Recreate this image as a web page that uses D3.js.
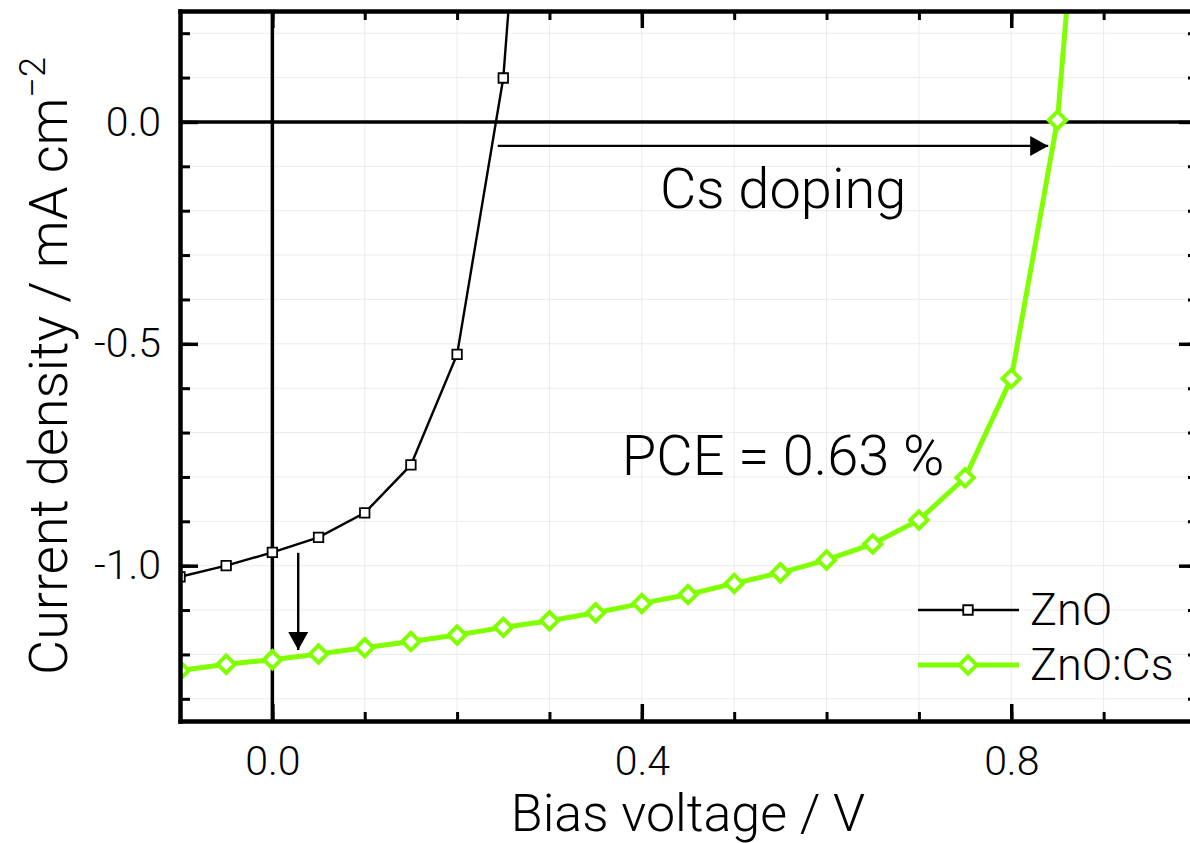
<!DOCTYPE html>
<html>
<head>
<meta charset="utf-8">
<script src="https://cdn.jsdelivr.net/npm/d3@7"></script>
<style>
  html, body { margin: 0; padding: 0; background: #fff; }
  svg { display: block; }
  text { font-family: Roboto, "Liberation Sans", sans-serif; font-weight: 300; fill: #000; }
</style>
</head>
<body>
<div id="chart"></div>
<script>
// ZnO reference device
const znoVoltage = [-0.1, -0.05, 0, 0.05, 0.1, 0.15, 0.2, 0.25, 0.3];
const znoCurrent = [-1.025, -1.0, -0.970, -0.936, -0.881, -0.773, -0.524, 0.099, 1.46];

// Cs doped ZnO device
const csVoltage = [-0.1, -0.05, 0, 0.05, 0.1, 0.15, 0.2, 0.25, 0.3, 0.35, 0.4, 0.45,
  0.5, 0.55, 0.6, 0.65, 0.7, 0.75, 0.8, 0.85, 0.9];
const csCurrent = [-1.236, -1.222, -1.212, -1.199, -1.185, -1.171, -1.156, -1.139, -1.124,
  -1.106, -1.085, -1.065, -1.040, -1.016, -0.987, -0.951, -0.897, -0.802, -0.578, 0.004, 1.25];

const seriesNames = ["ZnO", "ZnO:Cs"];

// axes
const xDomain = [-0.1, 1.0];
const yDomain = [-1.35, 0.25];
const xMajorTicks = [0.0, 0.4, 0.8];
const xMajorLabels = ["0.0", "0.4", "0.8"];
const yMajorTicks = [0.0, -0.5, -1.0];
const yMajorLabels = ["0.0", "-0.5", "-1.0"];
const xMinorTicks = [-0.1, 0.0, 0.1, 0.2, 0.3, 0.4, 0.5, 0.6, 0.7, 0.8, 0.9, 1.0];
const yMinorTicks = [-1.3, -1.2, -1.1, -1.0, -0.9, -0.8, -0.7, -0.6, -0.5, -0.4, -0.3, -0.2, -0.1, 0.0, 0.1, 0.2];

// annotations (data units)
const shiftArrow = [[0.244, -0.054], [0.840, -0.054]];
const jscArrow = [[0.028, -0.971], [0.028, -1.19]];
const notes = [
  { text: "Cs doping", x: 0.553, y: -0.194 },
  { text: "PCE = 0.63 %", x: 0.553, y: -0.796 }
];

const width = 1190, height = 843;
const green = "#80ff00";

const svg = d3.select("#chart").append("svg")
  .attr("width", width)
  .attr("height", height);

const x = d3.scaleLinear().domain(xDomain).range([180, 1196]);
const y = d3.scaleLinear().domain(yDomain).range([721, 11]);

svg.append("defs").append("clipPath")
  .attr("id", "plotClip")
  .append("rect")
  .attr("x", x(xDomain[0]))
  .attr("y", y(yDomain[1]))
  .attr("width", x(xDomain[1]) - x(xDomain[0]))
  .attr("height", y(yDomain[0]) - y(yDomain[1]));

svg.select("defs").append("marker")
  .attr("id", "head")
  .attr("markerUnits", "userSpaceOnUse")
  .attr("viewBox", "0 -11 20 22")
  .attr("markerWidth", 20)
  .attr("markerHeight", 22)
  .attr("refX", 18)
  .attr("refY", 0)
  .attr("orient", "auto")
  .append("path")
  .attr("d", "M0,-10L18,0L0,10Z")
  .attr("fill", "#000");

// grid
const grid = svg.append("g").attr("class", "grid");
grid.selectAll(".gx")
  .data(xMinorTicks)
  .enter().append("line")
  .attr("x1", d => x(d)).attr("x2", d => x(d))
  .attr("y1", y(yDomain[0])).attr("y2", y(yDomain[1]))
  .attr("stroke", "#ebebeb").attr("stroke-width", 1);
grid.selectAll(".gy")
  .data(yMinorTicks)
  .enter().append("line")
  .attr("y1", d => y(d)).attr("y2", d => y(d))
  .attr("x1", x(xDomain[0])).attr("x2", x(xDomain[1]))
  .attr("stroke", "#ebebeb").attr("stroke-width", 1);

// zero lines
svg.append("line")
  .attr("x1", x(xDomain[0])).attr("x2", x(xDomain[1]))
  .attr("y1", y(0)).attr("y2", y(0))
  .attr("stroke", "#000").attr("stroke-width", 3.5);
svg.append("line")
  .attr("x1", x(0)).attr("x2", x(0))
  .attr("y1", y(yDomain[0])).attr("y2", y(yDomain[1]))
  .attr("stroke", "#000").attr("stroke-width", 3.5);

// data
const plot = svg.append("g").attr("clip-path", "url(#plotClip)");
const line = d3.line().x(d => x(d[0])).y(d => y(d[1]));

const znoData = znoVoltage.map((v, i) => [v, znoCurrent[i]]);
const csData = csVoltage.map((v, i) => [v, csCurrent[i]]);

plot.append("path")
  .datum(znoData)
  .attr("d", line)
  .attr("fill", "none")
  .attr("stroke", "#000")
  .attr("stroke-width", 2.4);

plot.append("path")
  .datum(csData)
  .attr("d", line)
  .attr("fill", "none")
  .attr("stroke", green)
  .attr("stroke-width", 5);

const square = d3.symbol().type(d3.symbolSquare).size(90);
const diamond = d3.symbol().type(d3.symbolSquare).size(150);

plot.selectAll(".sq")
  .data(znoData)
  .enter().append("path")
  .attr("d", square)
  .attr("transform", d => `translate(${x(d[0])},${y(d[1])})`)
  .attr("fill", "#fff")
  .attr("stroke", "#000")
  .attr("stroke-width", 1.8);

plot.selectAll(".dm")
  .data(csData)
  .enter().append("path")
  .attr("d", diamond)
  .attr("transform", d => `translate(${x(d[0])},${y(d[1])}) rotate(45)`)
  .attr("fill", "#fff")
  .attr("stroke", green)
  .attr("stroke-width", 4);

// annotations
[shiftArrow, jscArrow].forEach(a => {
  svg.append("line")
    .attr("x1", x(a[0][0])).attr("y1", y(a[0][1]))
    .attr("x2", x(a[1][0])).attr("y2", y(a[1][1]))
    .attr("stroke", "#000")
    .attr("stroke-width", 2.4)
    .attr("marker-end", "url(#head)");
});

svg.selectAll(".note")
  .data(notes)
  .enter().append("text")
  .attr("x", d => x(d.x))
  .attr("y", d => y(d.y))
  .attr("text-anchor", "middle")
  .style("font-size", "56px")
  .text(d => d.text);

// axes
const frame = svg.append("g").attr("class", "frame");

function styleAxis(g, w) {
  g.select(".domain").attr("stroke-width", 4).attr("stroke-linecap", "square");
  g.selectAll(".tick line").attr("stroke-width", w);
}

frame.append("g")
  .attr("transform", `translate(0,${y(yDomain[0])})`)
  .call(d3.axisBottom(x).tickValues(xMinorTicks).tickSizeInner(-9).tickSizeOuter(0).tickFormat(""))
  .call(g => styleAxis(g, 3));
frame.append("g")
  .attr("transform", `translate(0,${y(yDomain[0])})`)
  .call(d3.axisBottom(x).tickValues(xMajorTicks).tickSizeInner(-17).tickSizeOuter(0)
    .tickPadding(25).tickFormat((d, i) => xMajorLabels[i]))
  .call(g => styleAxis(g, 3.5))
  .call(g => g.selectAll("text").style("font-size", "41px"));

frame.append("g")
  .attr("transform", `translate(0,${y(yDomain[1])})`)
  .call(d3.axisTop(x).tickValues(xMinorTicks).tickSizeInner(-9).tickSizeOuter(0).tickFormat(""))
  .call(g => styleAxis(g, 3));
frame.append("g")
  .attr("transform", `translate(0,${y(yDomain[1])})`)
  .call(d3.axisTop(x).tickValues(xMajorTicks).tickSizeInner(-17).tickSizeOuter(0).tickFormat(""))
  .call(g => styleAxis(g, 3.5));

frame.append("g")
  .attr("transform", `translate(${x(xDomain[0])},0)`)
  .call(d3.axisLeft(y).tickValues(yMinorTicks).tickSizeInner(-10).tickSizeOuter(0).tickFormat(""))
  .call(g => styleAxis(g, 3));
frame.append("g")
  .attr("transform", `translate(${x(xDomain[0])},0)`)
  .call(d3.axisLeft(y).tickValues(yMajorTicks).tickSizeInner(-18).tickSizeOuter(0)
    .tickPadding(19).tickFormat((d, i) => yMajorLabels[i]))
  .call(g => styleAxis(g, 3.5))
  .call(g => g.selectAll("text").style("font-size", "41px"));

frame.append("g")
  .attr("transform", `translate(${x(xDomain[1])},0)`)
  .call(d3.axisRight(y).tickValues(yMinorTicks).tickSizeInner(-8).tickSizeOuter(0).tickFormat(""))
  .call(g => styleAxis(g, 3));
frame.append("g")
  .attr("transform", `translate(${x(xDomain[1])},0)`)
  .call(d3.axisRight(y).tickValues(yMajorTicks).tickSizeInner(-17).tickSizeOuter(0).tickFormat(""))
  .call(g => styleAxis(g, 3.5));

frame.selectAll("text").attr("fill", "#000").style("font-family", null);

// axis titles
svg.append("text")
  .attr("x", (x(xDomain[0]) + x(xDomain[1])) / 2)
  .attr("y", 831)
  .attr("text-anchor", "middle")
  .style("font-size", "52px")
  .text("Bias voltage / V");

const yTitle = svg.append("text")
  .attr("transform", `translate(67,${(y(yDomain[0]) + y(yDomain[1])) / 2}) rotate(-90)`)
  .attr("text-anchor", "middle")
  .style("font-size", "54px");
yTitle.append("tspan").text("Current density / mA cm");
yTitle.append("tspan")
  .attr("dy", "-0.62em")
  .style("font-size", "36px")
  .text("\u22122");

// legend
const legend = svg.append("g").attr("class", "legend");
const legendRows = [
  { name: seriesNames[0], y: 610, color: "#000", width: 2.4, sym: square, rot: 0, sw: 1.8 },
  { name: seriesNames[1], y: 665, color: green, width: 5, sym: diamond, rot: 45, sw: 4 }
];
legendRows.forEach(r => {
  legend.append("line")
    .attr("x1", 918).attr("x2", 1019)
    .attr("y1", r.y).attr("y2", r.y)
    .attr("stroke", r.color).attr("stroke-width", r.width);
  legend.append("path")
    .attr("d", r.sym)
    .attr("transform", `translate(968,${r.y}) rotate(${r.rot})`)
    .attr("fill", "#fff")
    .attr("stroke", r.color)
    .attr("stroke-width", r.sw);
  legend.append("text")
    .attr("x", 1030)
    .attr("y", r.y + 15)
    .style("font-size", "45px")
    .text(r.name);
});
</script>
</body>
</html>
